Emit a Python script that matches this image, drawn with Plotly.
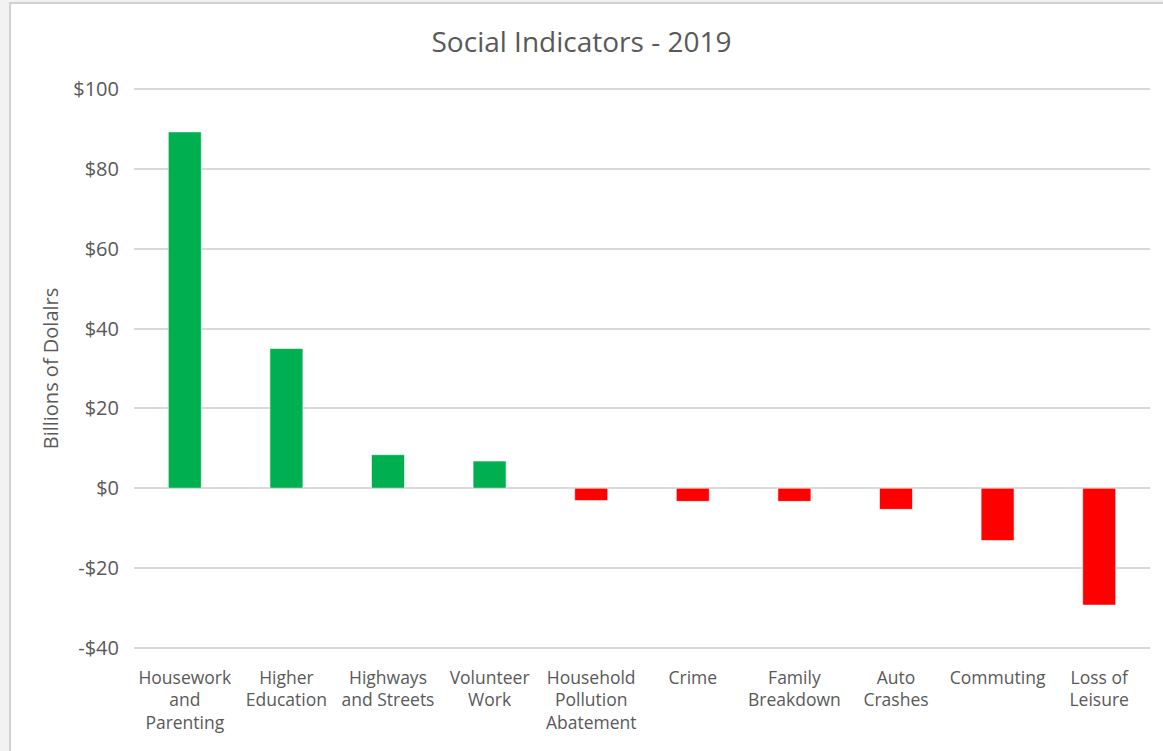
import plotly.graph_objects as go

# Social indicators, billions of dollars
categories = [
    "Housework<br>and<br>Parenting",
    "Higher<br>Education",
    "Highways<br>and Streets",
    "Volunteer<br>Work",
    "Household<br>Pollution<br>Abatement",
    "Crime",
    "Family<br>Breakdown",
    "Auto<br>Crashes",
    "Commuting",
    "Loss of<br>Leisure",
]
values = [89.3, 35.0, 8.4, 6.8, -3.1, -3.3, -3.3, -5.3, -13.1, -29.3]

y_tickvals = [-40, -20, 0, 20, 40, 60, 80, 100]
y_ticktext = ["-$40", "-$20", "$0", "$20", "$40", "$60", "$80", "$100"]

GREEN = "#00B050"
RED = "#FF0000"
TEXT = "#595959"
FONT = "Open Sans"

colors = [GREEN if v >= 0 else RED for v in values]

fig = go.Figure()
fig.add_trace(go.Bar(
    x=categories,
    y=values,
    marker=dict(color=colors, line=dict(color="rgba(255,255,255,0.6)", width=1)),
    hovertemplate='%{x}<br>$%{y:.1f}B<extra></extra>'
))

# grey page with a white chart frame, like the spreadsheet screenshot
fig.add_shape(
    type="rect", xref="paper", yref="paper",
    x0=-0.122, x1=1.2, y0=-0.5, y1=1.1515,
    fillcolor="white", line=dict(color="#d0d0d0", width=2),
    layer="below"
)

fig.update_layout(
    title=dict(text="Social Indicators - 2019", x=0.5, xanchor="center",
               y=1 - 42 / 751, yanchor="middle",
               font=dict(size=28, color=TEXT, family=FONT)),
    width=1163,
    height=751,
    margin=dict(l=134, r=13, t=88, b=102),
    paper_bgcolor="#f2f2f2",
    plot_bgcolor="white",
    showlegend=False,
    bargap=0.675,
    font=dict(family=FONT, color=TEXT),
    xaxis=dict(
        tickfont=dict(size=17.5, color=TEXT, family=FONT),
        showgrid=False,
        ticks="",
        tickangle=0,
        ticklabelstandoff=16,
    ),
    yaxis=dict(
        title=dict(text="Billions of Dolalrs", font=dict(size=20, color=TEXT, family=FONT),
                   standoff=9),
        range=[-40.3, 100.3],
        tickvals=y_tickvals,
        ticktext=y_ticktext,
        tickfont=dict(size=20, color=TEXT, family=FONT),
        gridcolor="#d9d9d9",
        gridwidth=1.5,
        zeroline=True,
        zerolinecolor="#d9d9d9",
        zerolinewidth=1.5,
        ticks="",
        ticklabelstandoff=14,
    ),
)

# page body has a default 8px margin; drop it so the figure sits at 0,0
fig.write_html("out.html", config={"displayModeBar": False},
               post_script="document.body.style.margin='0';")
